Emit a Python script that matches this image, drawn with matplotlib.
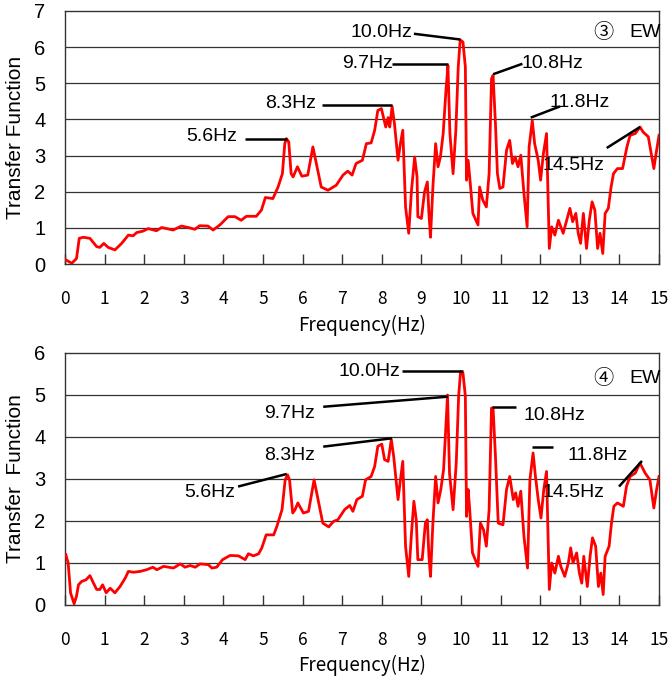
import matplotlib
matplotlib.use("Agg")
import matplotlib.pyplot as plt

# ---- data: top panel (3 EW) ----
freq_top = [0.0, 0.17, 0.29, 0.36, 0.46, 0.63, 0.8, 0.88, 0.98, 1.09, 1.26, 1.43, 1.6, 1.72, 1.81, 1.97,
            2.1, 2.31, 2.44, 2.56, 2.73, 2.94, 3.11, 3.28, 3.4, 3.61, 3.74, 3.91, 4.12, 4.29, 4.45, 4.58,
            4.83, 4.96, 5.06, 5.25, 5.38, 5.49, 5.55, 5.59, 5.65, 5.71, 5.76, 5.87, 5.98, 6.13, 6.26, 6.47,
            6.64, 6.85, 7.02, 7.14, 7.25, 7.35, 7.51, 7.61, 7.73, 7.82, 7.9, 7.99, 8.05, 8.1, 8.16, 8.2,
            8.26, 8.32, 8.41, 8.47, 8.53, 8.6, 8.68, 8.75, 8.83, 8.89, 8.91, 9.0, 9.08, 9.15, 9.19, 9.23,
            9.29, 9.36, 9.42, 9.48, 9.55, 9.62, 9.67, 9.72, 9.8, 9.87, 9.93, 9.98, 10.05, 10.11, 10.14,
            10.18, 10.22, 10.3, 10.43, 10.47, 10.55, 10.64, 10.71, 10.77, 10.81, 10.87, 10.92, 10.98,
            11.06, 11.15, 11.23, 11.3, 11.37, 11.44, 11.51, 11.59, 11.67, 11.72, 11.8, 11.86, 11.95,
            12.01, 12.08, 12.16, 12.2, 12.23, 12.29, 12.37, 12.46, 12.52, 12.58, 12.67, 12.75, 12.82,
            12.9, 12.96, 13.02, 13.09, 13.17, 13.24, 13.31, 13.38, 13.45, 13.51, 13.58, 13.64, 13.72,
            13.79, 13.85, 13.95, 14.08, 14.19, 14.27, 14.4, 14.52, 14.6, 14.73, 14.87, 14.94, 15.0]
tf_top = [0.13, 0.02, 0.15, 0.71, 0.74, 0.71, 0.48, 0.46, 0.57, 0.46, 0.39, 0.57, 0.8, 0.78, 0.87, 0.91,
          0.98, 0.92, 1.01, 0.98, 0.94, 1.05, 1.01, 0.96, 1.06, 1.05, 0.94, 1.08, 1.31, 1.31, 1.21, 1.32,
          1.32, 1.49, 1.84, 1.81, 2.13, 2.5, 3.33, 3.47, 3.38, 2.5, 2.41, 2.69, 2.43, 2.46, 3.24, 2.13,
          2.04, 2.18, 2.46, 2.57, 2.46, 2.78, 2.87, 3.33, 3.35, 3.7, 4.25, 4.3, 4.02, 3.79, 4.05, 3.79,
          4.36, 3.88, 2.87, 3.33, 3.7, 1.58, 0.85, 2.04, 2.96, 2.41, 1.31, 1.26, 2.0, 2.27, 1.4, 0.74,
          2.13, 3.33, 2.69, 2.96, 3.61, 4.8, 5.49, 3.61, 2.5, 3.7, 5.45, 6.2, 6.14, 5.45, 2.32,
          2.87, 2.41, 1.4, 1.08, 2.13, 1.77, 1.58, 2.5, 5.12, 5.22, 3.88, 2.5, 2.09,
          2.13, 3.15, 3.42, 2.78, 2.96, 2.69, 3.01, 1.95, 1.03, 3.24, 3.97, 3.33, 2.87,
          2.32, 3.05, 3.61, 1.77, 0.43, 1.03, 0.8, 1.21, 1.03, 0.85, 1.21, 1.54, 1.17,
          1.4, 0.85, 0.57, 1.4, 0.43, 1.21, 1.72, 1.49, 0.43, 0.85, 0.29, 1.4, 1.54,
          2.13, 2.5, 2.64, 2.64, 3.24, 3.56, 3.61, 3.79, 3.65, 3.52, 2.64, 3.15, 3.56]

# ---- data: bottom panel (4 EW) ----
freq_bot = [0.02, 0.08, 0.14, 0.23, 0.29, 0.34, 0.42, 0.53, 0.63, 0.72, 0.8, 0.88, 0.95, 1.04, 1.14, 1.26,
            1.39, 1.52, 1.6, 1.73, 1.9, 2.06, 2.22, 2.32, 2.49, 2.74, 2.91, 3.03, 3.16, 3.29, 3.41, 3.62,
            3.71, 3.83, 3.98, 4.17, 4.38, 4.55, 4.63, 4.76, 4.89, 4.97, 5.08, 5.27, 5.35, 5.48, 5.56, 5.62,
            5.67, 5.75, 5.81, 5.88, 6.02, 6.15, 6.29, 6.51, 6.66, 6.78, 6.89, 7.06, 7.19, 7.27, 7.37, 7.51,
            7.59, 7.73, 7.82, 7.9, 8.0, 8.07, 8.16, 8.24, 8.3, 8.41, 8.47, 8.53, 8.6, 8.68, 8.75, 8.81,
            8.87, 8.91, 9.02, 9.1, 9.15, 9.19, 9.23, 9.29, 9.36, 9.42, 9.49, 9.56, 9.63, 9.66, 9.71, 9.8,
            9.88, 9.94, 9.99, 10.05, 10.11, 10.14, 10.18, 10.22, 10.29, 10.43, 10.49, 10.57, 10.64, 10.71,
            10.77, 10.81, 10.87, 10.94, 11.06, 11.15, 11.23, 11.32, 11.38, 11.44, 11.51, 11.59, 11.68,
            11.74, 11.82, 11.88, 11.95, 12.02, 12.09, 12.16, 12.2, 12.23, 12.29, 12.37, 12.46, 12.52,
            12.62, 12.71, 12.77, 12.83, 12.92, 12.99, 13.05, 13.1, 13.19, 13.26, 13.32, 13.4, 13.47,
            13.53, 13.59, 13.64, 13.74, 13.8, 13.86, 13.95, 14.1, 14.18, 14.27, 14.4, 14.52, 14.65,
            14.77, 14.87, 14.94, 15.0]
tf_bot = [1.2, 1.0, 0.29, 0.03, 0.21, 0.48, 0.56, 0.6, 0.7, 0.52, 0.37, 0.37, 0.48, 0.29, 0.4, 0.29,
          0.44, 0.64, 0.8, 0.78, 0.8, 0.84, 0.9, 0.84, 0.92, 0.88, 0.98, 0.9, 0.94, 0.9, 0.98, 0.96,
          0.88, 0.9, 1.08, 1.18, 1.17, 1.08, 1.22, 1.17, 1.22, 1.36, 1.67, 1.67, 1.87, 2.27, 2.98, 3.1,
          2.98, 2.19, 2.27, 2.43, 2.19, 2.23, 2.98, 1.95, 1.86, 1.99, 2.03, 2.27, 2.37, 2.23, 2.51, 2.59,
          2.98, 3.06, 3.3, 3.78, 3.83, 3.46, 3.42, 3.94, 3.54, 2.51, 2.98, 3.42, 1.4, 0.68, 1.71, 2.47,
          2.03, 1.08, 1.08, 1.95, 2.03, 1.16, 0.68, 1.95, 3.06, 2.43, 2.75, 3.22, 4.49, 5.0, 3.14, 2.27,
          3.38, 4.97, 5.56, 5.52, 4.97, 2.11, 2.75, 2.27, 1.24, 0.92, 1.95, 1.79, 1.4, 2.27,
          4.69, 4.69, 3.54, 1.95, 1.91, 2.75, 3.06, 2.51, 2.67, 2.35, 2.71, 1.63, 0.88,
          2.98, 3.62, 3.06, 2.51, 2.07, 2.75, 3.18, 1.63, 0.37, 1.0, 0.76, 1.16, 0.92,
          0.68, 1.0, 1.36, 1.0, 1.24, 0.76, 0.52, 1.16, 0.44, 1.16, 1.6, 1.4, 0.44,
          0.76, 0.25, 1.16, 1.4, 1.95, 2.35, 2.43, 2.35, 2.83, 3.06, 3.14, 3.38, 3.14,
          2.98, 2.31, 2.75, 3.06]

x_ticks = list(range(0, 16))
y_ticks_top = list(range(0, 8))
y_ticks_bot = list(range(0, 7))

# annotations: (label, text_x, text_y, line_x0, line_y0, line_x1, line_y1)
ann_top = [
    ("5.6Hz", 3.7, 3.54, 4.55, 3.47, 5.6, 3.47),
    ("8.3Hz", 5.7, 4.45, 6.49, 4.39, 8.26, 4.39),
    ("9.7Hz", 7.65, 5.55, 8.26, 5.52, 9.67, 5.52),
    ("10.0Hz", 8.0, 6.4, 8.81, 6.37, 9.99, 6.21),
    ("10.8Hz", 12.3, 5.55, 10.81, 5.25, 11.55, 5.54),
    ("11.8Hz", 13.0, 4.48, 11.76, 4.05, 12.5, 4.36),
    ("14.5Hz", 12.85, 2.73, 13.68, 3.21, 14.52, 3.79),
]
ann_bot = [
    ("5.6Hz", 3.65, 2.67, 4.37, 2.82, 5.6, 3.12),
    ("8.3Hz", 5.67, 3.57, 6.52, 3.77, 8.26, 3.97),
    ("9.7Hz", 5.67, 4.57, 6.52, 4.72, 9.67, 4.96),
    ("10.0Hz", 7.7, 5.56, 8.51, 5.58, 10.05, 5.58),
    ("10.8Hz", 12.35, 4.52, 10.78, 4.71, 11.39, 4.71),
    ("11.8Hz", 13.45, 3.57, 11.79, 3.77, 12.32, 3.77),
    ("14.5Hz", 12.85, 2.67, 13.99, 2.82, 14.57, 3.43),
]
panel_tags = [("③", "EW", 6.4), ("④", "EW", 5.4)]

ann_font = ["Liberation Sans", "Noto Sans CJK JP"]
cjk_font = ["Noto Sans CJK JP", "DejaVu Sans"]

fig = plt.figure(figsize=(6.7, 6.86), dpi=100)
ax_top = fig.add_axes([65 / 670, 1 - 264 / 686, 594 / 670, 253 / 686])
ax_bot = fig.add_axes([65 / 670, 1 - 605 / 686, 594 / 670, 252 / 686])

panels = [
    (ax_top, freq_top, tf_top, y_ticks_top, ann_top, panel_tags[0], "Transfer Function", 137.5, 325),
    (ax_bot, freq_bot, tf_bot, y_ticks_bot, ann_bot, panel_tags[1], "Transfer  Function", 479, 665),
]

for ax, fx, fy, yt, ann, tag, ylab, ymid, xlab_y in panels:
    ax.set_xlim(0, 15)
    ax.set_ylim(yt[0], yt[-1])
    for v in yt[1:-1]:
        ax.axhline(v, color="#333333", lw=0.9, zorder=1)
    ax.plot(fx, fy, color="#ff0000", lw=2.0, zorder=3)
    for lab, tx, ty, x0, y0, x1, y1 in ann:
        ax.plot([x0, x1], [y0, y1], color="black", lw=1.8, zorder=4, solid_capstyle="butt")
        ax.text(tx, ty, lab, ha="center", va="center", fontsize=14, family=ann_font, zorder=5)
    ax.text(13.6, tag[2], tag[0], ha="center", va="center", fontsize=14.5, family=cjk_font)
    ax.text(14.65, tag[2], tag[1], ha="center", va="center", fontsize=14, family=ann_font)
    ax.set_xticks(x_ticks)
    ax.set_yticks(yt)
    ax.tick_params(axis="x", direction="in", length=7, width=1, pad=19, color="#333333")
    ax.tick_params(axis="y", length=0, pad=14)
    for t in ax.get_xticklabels():
        t.set_family(cjk_font)
        t.set_fontsize(12.5)
    for t in ax.get_yticklabels():
        t.set_family(ann_font)
        t.set_fontsize(14.5)
    for s in ax.spines.values():
        s.set_color("#333333")
        s.set_linewidth(1.0)
    fig.text(16 / 670, 1 - ymid / 686, ylab, rotation=90, ha="center", va="center",
             fontsize=15, family=ann_font)
    fig.text(362 / 670, 1 - xlab_y / 686, "Frequency(Hz)", ha="center", va="center",
             fontsize=13.5, family=cjk_font)

fig.savefig("out.png", dpi=100)
